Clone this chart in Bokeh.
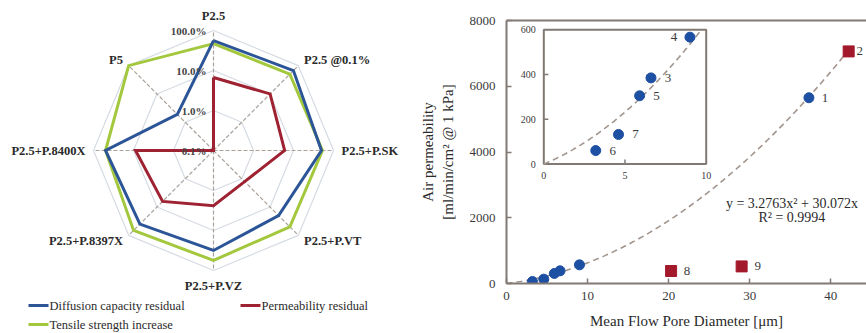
import numpy as np
from bokeh.plotting import figure
from bokeh.layouts import row
from bokeh.models import Range1d, LinearAxis, FixedTicker
from bokeh.core.properties import value
from bokeh.embed import file_html
from bokeh.resources import INLINE

# ---------------- data: radar chart ----------------
categories = ["P2.5", "P2.5 @0.1%", "P2.5+P.SK", "P2.5+P.VT", "P2.5+P.VZ",
              "P2.5+P.8397X", "P2.5+P.8400X", "P5"]
diffusion_residual = [56, 67, 50, 20, 31.6, 40, 50, 1.9]      # %
permeability_residual = [6.7, 10, 6.0, 1.26, 2.4, 6.3, 8.9, 0.1]  # %
tensile_increase = [47, 50, 53, 50, 56, 67, 50, 100]          # %
ring_ticks = [0.1, 1, 10, 100]
ring_labels = ["0.1%", "1.0%", "10.0%", "100.0%"]
legend_names = ["Diffusion capacity residual", "Permeability residual",
                "Tensile strength increase"]

# ---------------- data: scatter chart ----------------
point_ids = ["1", "2", "3", "4", "5", "6", "7", "8", "9"]
pore_diameter = [37.3, 42.2, 6.6, 9.0, 5.9, 3.2, 4.6, 20.3, 29.0]     # um
air_permeability = [5650, 7060, 385, 567, 305, 60, 132, 380, 520]    # ml/min/cm2
is_outlier = [False, True, False, False, False, False, False, True, True]
inset_ids = ["3", "4", "5", "6", "7"]
main_label_ids = ["1", "2", "8", "9"]
x_ticks = [0, 10, 20, 30, 40, 50]
y_ticks = [0, 2000, 4000, 6000, 8000]
inset_x_ticks = [0, 5, 10]
inset_y_ticks = [0, 200, 400, 600]
trend_a, trend_b = 3.2763, 30.072
trend_r2 = 0.9994

SERIF = value("Liberation Serif")
BLUE_R, RED_R, GREEN_R = "#2c5598", "#9e2231", "#a3c83d"
RING = "#d6dbe3"
SPOKE = "#aaa29b"
TXT = "#2a2a2a"


def no_frame_align(p):
    if "frame_align" in p.properties():
        p.frame_align = False


# ================= radar figure =================
W1, H1 = 413, 333
CX, CY = 213, 150          # centre in page pixels
PX = 40.0                  # pixels per decade
p1 = figure(width=W1, height=H1, output_backend="svg", toolbar_location=None,
            x_range=Range1d(-CX / PX, (W1 - CX) / PX),
            y_range=Range1d(-(H1 - CY) / PX, CY / PX),
            min_border=0, x_axis_location=None, y_axis_location=None)
p1.grid.visible = False
p1.outline_line_color = None
no_frame_align(p1)


def ux(px):
    return (px - CX) / PX


def uy(py):
    return (CY - py) / PX


N = len(categories)
theta = np.pi / 2 - np.arange(N) * 2 * np.pi / N


def rr(v):
    return np.log10(np.asarray(v, dtype=float) / ring_ticks[0])


rmax = rr(ring_ticks[-1])
for t in ring_ticks[1:]:
    r = rr(t)
    xs = list(r * np.cos(theta)) + [r * np.cos(theta[0])]
    ys = list(r * np.sin(theta)) + [r * np.sin(theta[0])]
    p1.line(xs, ys, line_color=RING, line_width=1.2)

p1.segment(x0=[0] * N, y0=[0] * N, x1=list(rmax * np.cos(theta)), y1=list(rmax * np.sin(theta)),
           line_color=SPOKE, line_width=1.2, line_dash="4 2")

for vals, col in [(tensile_increase, GREEN_R), (diffusion_residual, BLUE_R),
                  (permeability_residual, RED_R)]:
    r = rr(vals)
    xs = list(r * np.cos(theta)) + [r[0] * np.cos(theta[0])]
    ys = list(r * np.sin(theta)) + [r[0] * np.sin(theta[0])]
    p1.line(xs, ys, line_color=col, line_width=3, line_join="miter")

# ring labels
p1.text(x=[ux(CX - 7)] * len(ring_ticks), y=list(rr(ring_ticks)), text=ring_labels,
        text_font=SERIF, text_font_size="11px", text_font_style="bold", text_color="#444444",
        text_align="right", text_baseline="middle")

# category labels
rl = 3.2
aligns = ["left" if c > 0.1 else ("right" if c < -0.1 else "center") for c in np.cos(theta)]
bases = ["bottom" if s > 0.9 else ("top" if s < -0.9 else "middle") for s in np.sin(theta)]
for i, name in enumerate(categories):
    p1.text(x=[rl * np.cos(theta[i])], y=[rl * np.sin(theta[i])], text=[name],
            text_font=SERIF, text_font_size="12.5px", text_font_style="bold",
            text_color=TXT, text_align=aligns[i], text_baseline=bases[i])

# legend
leg_rows = [305, 305, 324]
leg_x = [28, 240, 28]
for name, col, lx, ly in zip(legend_names, [BLUE_R, RED_R, GREEN_R], leg_x, leg_rows):
    p1.segment(x0=[ux(lx)], y0=[uy(ly)], x1=[ux(lx + 20)], y1=[uy(ly)],
               line_color=col, line_width=3)
    p1.text(x=[ux(lx + 21)], y=[uy(ly)], text=[name], text_font=SERIF,
            text_font_size="12.5px", text_color=TXT, text_align="left",
            text_baseline="middle")

# ================= scatter figure =================
W2, H2 = 453, 333
BL, BT, BB = 93, 20, 50
FRAME = "#817973"
XPX = 8.108
frame_w = W2 - BL
frame_h = H2 - BT - BB
p2 = figure(width=W2, height=H2, output_backend="svg", toolbar_location=None,
            x_range=Range1d(0, frame_w / XPX), y_range=Range1d(0, 8000),
            min_border_left=BL, min_border_right=0, min_border_top=BT,
            min_border_bottom=BB)
p2.grid.visible = False
p2.outline_line_color = None
no_frame_align(p2)

for ax in (p2.xaxis[0], p2.yaxis[0]):
    ax.axis_line_color = FRAME
    ax.axis_line_width = 2
    ax.major_tick_line_color = FRAME
    ax.major_tick_line_width = 1.5
    ax.major_tick_in = 5
    ax.major_tick_out = 0
    ax.minor_tick_line_color = None
    ax.major_label_text_font = "Liberation Serif"
    ax.major_label_text_font_size = "13px"
    ax.major_label_text_color = "#3a3a3a"
    ax.axis_label_text_font = "Liberation Serif"
    ax.axis_label_text_font_size = "15px"
    ax.axis_label_text_font_style = "normal"
    ax.axis_label_text_color = TXT

p2.xaxis.ticker = FixedTicker(ticks=x_ticks)
p2.yaxis.ticker = FixedTicker(ticks=y_ticks)
p2.xaxis.major_label_standoff = 8
p2.yaxis.major_label_standoff = 11
p2.xaxis.axis_label = "Mean Flow Pore Diameter [\u03bcm]"
p2.xaxis.axis_label_standoff = 10
p2.yaxis.axis_label = "Air permeability\n[ml/min/cm\u00b2 @ 1 kPa]"
p2.yaxis.axis_label_standoff = 11

top_ax = LinearAxis(ticker=FixedTicker(ticks=[]), axis_line_color=FRAME, axis_line_width=2,
                    major_tick_line_color=None, minor_tick_line_color=None,
                    major_label_text_font_size="0px")
p2.add_layout(top_ax, "above")

DASH_C = "#a1948d"
BLUE_S, RED_S = "#1d4fa2", "#a3192c"

# main trend line
xt = np.linspace(0, pore_diameter[1] + 0.2, 200)
p2.line(xt, trend_a * xt ** 2 + trend_b * xt, line_color=DASH_C, line_width=1.6,
        line_dash="6 4")

d = np.array(pore_diameter)
a = np.array(air_permeability)
o = np.array(is_outlier)
p2.scatter(d[~o], a[~o], marker="circle", size=10, fill_color=BLUE_S, line_color=BLUE_S)
p2.scatter(d[o], a[o], marker="square", size=11, fill_color=RED_S, line_color=RED_S)

mi = [point_ids.index(k) for k in main_label_ids]
main_offs = [11 if k == "2" else 16 for k in main_label_ids]
p2.text(x=[pore_diameter[i] for i in mi], y=[air_permeability[i] for i in mi],
        text=main_label_ids, x_offset=main_offs, text_font=SERIF, text_font_size="13px",
        text_color="#3a3a3a", text_align="center", text_baseline="middle")

p2.text(x=[35.2, 35.2], y=[2430, 2010],
        text=["y = %.4fx\u00b2 + %.3fx" % (trend_a, trend_b), "R\u00b2 = %.4f" % trend_r2],
        text_font=SERIF, text_font_size="14px", text_color=TXT,
        text_align="center", text_baseline="middle")

# ---------- inset via extra ranges ----------
IX0, IXPX = 543.3 - (W1 + BL), 16.24
IYPX = 134.2 / 600
p2.extra_x_ranges = {"ix": Range1d(-IX0 / IXPX, -IX0 / IXPX + frame_w / IXPX)}
iy_start = -(283 - 163.5) / IYPX
p2.extra_y_ranges = {"iy": Range1d(iy_start, iy_start + frame_h / IYPX)}
IR = dict(x_range_name="ix", y_range_name="iy")

p2.quad(left=[inset_x_ticks[0]], right=[inset_x_ticks[-1]], bottom=[inset_y_ticks[0]],
        top=[inset_y_ticks[-1]], fill_color="white", line_color=FRAME, line_width=2, **IR)
xin = inset_x_ticks[1:-1]
p2.segment(x0=xin, y0=[0] * len(xin), x1=xin, y1=[20] * len(xin), line_color=FRAME,
           line_width=1.5, **IR)
yin = inset_y_ticks[1:-1]
p2.segment(x0=[0] * len(yin), y0=yin, x1=[0.28] * len(yin), y1=yin, line_color=FRAME,
           line_width=1.5, **IR)
p2.text(x=[0] * len(inset_y_ticks), y=inset_y_ticks, text=[str(t) for t in inset_y_ticks],
        x_offset=-8, text_font=SERIF, text_font_size="10px", text_color="#3a3a3a",
        text_align="right", text_baseline="middle", **IR)
p2.text(x=inset_x_ticks, y=[0] * len(inset_x_ticks), text=[str(t) for t in inset_x_ticks],
        y_offset=8, text_font=SERIF, text_font_size="10px", text_color="#3a3a3a",
        text_align="center", text_baseline="top", **IR)

x_top = (-trend_b + np.sqrt(trend_b ** 2 + 4 * trend_a * inset_y_ticks[-1])) / (2 * trend_a)
xi = np.linspace(0, x_top, 120)
p2.line(xi, trend_a * xi ** 2 + trend_b * xi, line_color=DASH_C, line_width=1.6,
        line_dash="6 4", **IR)

ii = [point_ids.index(k) for k in inset_ids]
p2.scatter([pore_diameter[i] for i in ii], [air_permeability[i] for i in ii],
           marker="circle", size=10, fill_color=BLUE_S, line_color=BLUE_S, **IR)
offs = [-16 if k == "4" else 17 for k in inset_ids]
p2.text(x=[pore_diameter[i] for i in ii], y=[air_permeability[i] for i in ii],
        text=inset_ids, x_offset=offs, text_font=SERIF, text_font_size="13px",
        text_color="#3a3a3a", text_align="center", text_baseline="middle", **IR)

layout = row(p1, p2)
open("out.html", "w").write(file_html(layout, INLINE))
